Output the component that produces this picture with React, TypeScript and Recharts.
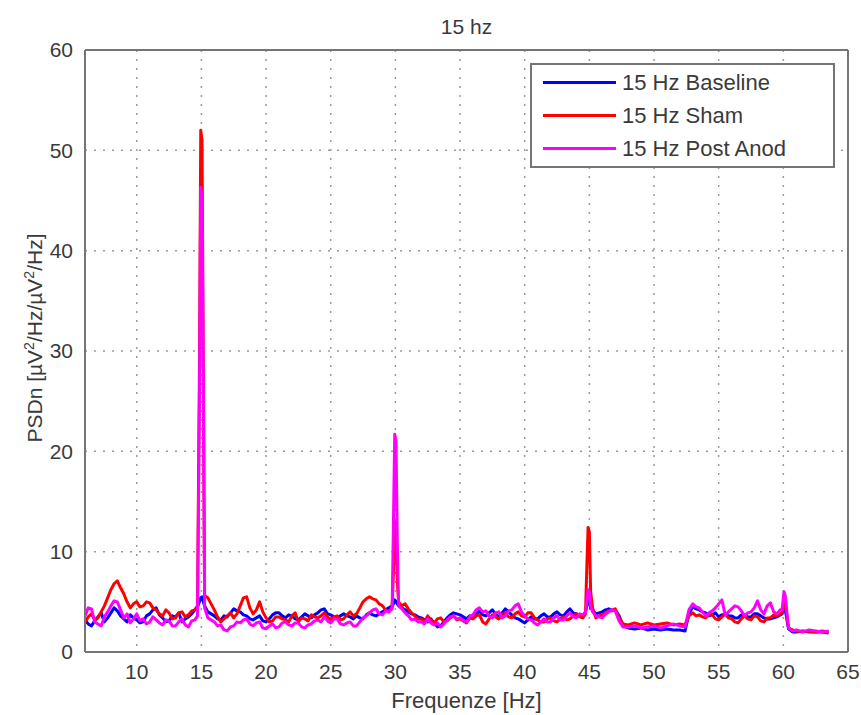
import React from 'react';
import { LineChart, Line, XAxis, YAxis, CartesianGrid, Legend } from 'recharts';

// Frequency bins (Hz)
const FREQS = [
  6, 6.25, 6.5, 6.75,
  7, 7.25, 7.5, 7.75,
  8, 8.25, 8.5, 8.75,
  9, 9.25, 9.5, 9.75,
  10, 10.25, 10.5, 10.75,
  11, 11.25, 11.5, 11.75,
  12, 12.25, 12.5, 12.75,
  13, 13.25, 13.5, 13.75,
  14, 14.25, 14.5, 14.7, 14.85, 14.95, 15.05, 15.15, 15.25, 15.5, 15.75,
  16, 16.25, 16.5, 16.75,
  17, 17.25, 17.5, 17.75,
  18, 18.25, 18.5, 18.75,
  19, 19.25, 19.5, 19.75,
  20, 20.25, 20.5, 20.75,
  21, 21.25, 21.5, 21.75,
  22, 22.25, 22.5, 22.75,
  23, 23.25, 23.5, 23.75,
  24, 24.25, 24.5, 24.75,
  25, 25.25, 25.5, 25.75,
  26, 26.25, 26.5, 26.75,
  27, 27.25, 27.5, 27.75,
  28, 28.25, 28.5, 28.75,
  29, 29.25, 29.5, 29.75, 29.85, 29.95, 30.05, 30.15, 30.25, 30.5, 30.75,
  31, 31.25, 31.5, 31.75,
  32, 32.25, 32.5, 32.75,
  33, 33.25, 33.5, 33.75,
  34, 34.25, 34.5, 34.75,
  35, 35.25, 35.5, 35.75,
  36, 36.25, 36.5, 36.75,
  37, 37.25, 37.5, 37.75,
  38, 38.25, 38.5, 38.75,
  39, 39.25, 39.5, 39.75,
  40, 40.25, 40.5, 40.75,
  41, 41.25, 41.5, 41.75,
  42, 42.25, 42.5, 42.75,
  43, 43.25, 43.5, 43.75,
  44, 44.25, 44.5, 44.7, 44.8, 44.9, 45.0, 45.1, 45.25, 45.5, 45.75,
  46, 46.25, 46.5, 46.75,
  47, 47.3, 47.6,
  48, 48.5, 49, 49.5, 50, 50.5, 51, 51.5, 52, 52.4, 52.7,
  53, 53.25, 53.5, 53.75,
  54, 54.25, 54.5, 54.75,
  55, 55.25, 55.5, 55.75,
  56, 56.25, 56.5, 56.75,
  57, 57.25, 57.5, 57.75,
  58, 58.25, 58.5, 58.75,
  59, 59.25, 59.5, 59.75,
  59.9, 60.05, 60.15, 60.4, 60.7, 61, 61.5, 62, 62.5, 63, 63.5,
];

const BASELINE = [
  3.2, 2.8, 2.6, 3.1,
  3.5, 3.9, 3.0, 3.4,
  3.9, 4.4, 4.1, 3.6,
  3.3, 3.0, 3.7, 3.4,
  3.2, 2.9, 3.0, 3.6,
  3.8, 4.2, 4.4, 3.7,
  3.4, 3.0, 3.1, 3.6,
  3.5, 3.9, 3.0, 3.3,
  3.5, 3.8, 4.2, 4.5, 5.0, 5.4, 5.5, 5.0, 4.6, 4.0, 3.8,
  3.6, 3.3, 3.2, 3.6,
  3.5, 3.9, 4.3, 4.1,
  4.0, 3.7, 3.6, 3.3,
  3.2, 3.4, 3.6, 3.1,
  3.0, 3.3, 3.7, 3.9,
  3.9, 3.6, 3.4, 3.7,
  3.6, 3.3, 3.2, 3.5,
  3.8, 3.6, 3.4, 3.7,
  3.9, 4.2, 4.3, 3.8,
  3.7, 3.5, 3.4, 3.6,
  3.8, 3.6, 3.5, 3.3,
  3.6, 3.4, 3.3, 3.7,
  3.9, 3.7, 3.6, 3.8,
  4.0, 4.2, 4.4, 4.6, 4.8, 5.2, 5.0, 4.8, 4.6, 4.4, 4.2,
  4.0, 3.8, 3.7, 3.5,
  3.4, 3.2, 3.0, 3.3,
  2.9, 2.5, 2.6, 3.0,
  3.4, 3.7, 3.9, 3.8,
  3.7, 3.5, 3.3, 3.6,
  3.5, 3.8, 4.1, 3.7,
  3.6, 3.9, 4.2, 3.8,
  3.5, 3.9, 4.3, 4.0,
  3.7, 3.4, 3.3, 3.1,
  2.9, 3.2, 3.5, 3.3,
  3.3, 3.6, 3.8, 3.5,
  3.5, 3.8, 4.0, 3.7,
  3.6, 4.0, 4.3, 3.9,
  3.8, 3.6, 3.6, 4.0, 4.6, 5.4, 5.0, 4.4, 4.2, 3.8, 3.9,
  4.0, 4.2, 4.3, 4.1,
  4.2, 3.6, 2.6,
  2.4, 2.3, 2.4, 2.2, 2.3, 2.2, 2.3, 2.2, 2.2, 2.1, 3.8,
  4.5, 4.3, 4.2, 4.0,
  3.9, 3.6, 3.7, 3.9,
  3.5, 3.7, 3.8, 3.6,
  3.6, 3.4, 3.4, 3.7,
  3.7, 3.5, 3.5, 3.8,
  3.8, 3.6, 3.4, 3.3,
  3.3, 3.4, 3.5, 3.7,
  3.8, 4.3, 4.2, 2.3, 2.0, 2.0, 2.1, 2.0, 2.0, 2.0, 1.9,
];

const SHAM = [
  3.0, 3.5, 3.8, 3.2,
  3.4, 4.0, 4.6, 5.4,
  6.2, 6.8, 7.1, 6.4,
  5.8, 5.0, 4.4, 4.8,
  5.0, 4.5, 4.6, 5.0,
  4.9, 4.4, 4.2, 3.8,
  3.6, 4.2, 3.9, 3.3,
  3.4, 3.9, 4.0, 3.5,
  3.7, 4.1, 4.2, 4.6, 28.5, 52.0, 51.0, 28.0, 5.6, 5.4, 4.8,
  4.2, 3.5, 3.0, 3.3,
  3.6, 3.9, 3.4, 3.8,
  4.6, 5.4, 5.5, 4.4,
  3.8, 4.2, 5.0, 4.0,
  3.4, 3.0, 3.1, 3.5,
  3.5, 3.3, 3.2, 3.0,
  3.6, 3.9, 3.0, 3.4,
  3.3, 3.1, 3.7, 3.5,
  3.4, 3.6, 3.9, 3.5,
  3.2, 3.5, 3.6, 3.2,
  3.3, 3.7, 4.0, 3.6,
  3.8, 4.4, 5.0, 5.3,
  5.5, 5.3, 5.2, 4.8,
  4.6, 4.2, 4.0, 4.5, 8.0, 13.0, 12.0, 7.0, 5.0, 4.6, 4.8,
  4.3, 3.9, 3.6, 3.3,
  3.3, 3.0, 3.6, 3.2,
  2.9, 3.3, 3.4, 3.0,
  3.1, 3.4, 3.6, 3.2,
  3.3, 3.1, 2.9, 3.4,
  3.3, 3.6, 3.7, 3.0,
  2.8, 3.3, 3.7, 3.5,
  3.3, 3.7, 3.9, 3.5,
  3.4, 3.8, 4.0, 3.6,
  3.5, 3.9, 3.9, 3.4,
  3.2, 3.0, 3.0, 3.3,
  3.4, 3.1, 3.0, 3.3,
  3.5, 3.2, 3.3, 3.6,
  3.8, 3.5, 3.4, 3.8, 8.3, 12.4, 12.0, 6.0, 4.4, 3.4, 3.6,
  3.7, 3.9, 4.1, 4.2,
  4.3, 3.4, 2.8,
  2.7, 2.9, 2.7, 2.9, 2.7, 2.8, 2.9, 2.7, 2.8, 2.7, 3.6,
  3.9, 3.6, 3.7, 3.5,
  3.4, 3.8, 3.7, 3.3,
  3.2, 3.5, 3.8, 3.4,
  3.3, 3.0, 2.9, 3.3,
  3.6, 3.3, 3.2, 3.6,
  3.5, 3.1, 3.0, 3.4,
  3.4, 3.7, 3.6, 3.8,
  3.9, 5.0, 4.8, 2.4, 2.2, 2.1, 2.0, 2.1, 2.0, 2.1, 2.0,
];

const POST_ANOD = [
  3.6, 4.4, 4.3, 3.0,
  2.8, 2.6, 3.5, 4.0,
  4.6, 5.1, 5.0, 4.2,
  3.4, 3.8, 2.9, 3.3,
  3.8, 3.1, 3.3, 2.8,
  3.0, 3.5, 3.2, 2.9,
  2.7, 3.2, 3.1, 2.6,
  2.6, 3.0, 3.3, 2.7,
  2.5, 3.1, 3.2, 3.6, 25.5, 46.3, 45.0, 26.0, 4.4, 3.4, 3.2,
  3.0, 2.6, 2.7, 2.2,
  2.1, 2.5, 2.6, 3.0,
  2.9, 3.2, 3.3, 2.8,
  2.6, 2.9, 3.0, 2.4,
  2.3, 2.6, 2.8, 2.4,
  2.5, 2.9, 3.0, 2.7,
  2.6, 2.9, 2.9, 2.5,
  2.4, 2.7, 2.8, 3.1,
  3.2, 3.0, 3.5, 3.1,
  2.9, 3.3, 3.3, 2.8,
  2.7, 2.9, 3.0, 2.6,
  2.6, 3.0, 3.4, 3.6,
  3.9, 4.2, 4.3, 3.8,
  3.7, 4.1, 4.0, 4.3, 12.8, 21.7, 21.0, 11.0, 4.6, 4.3, 3.9,
  3.6, 3.2, 3.3, 3.0,
  3.0, 2.8, 3.3, 2.9,
  2.7, 2.9, 2.5, 2.8,
  3.2, 3.5, 3.6, 3.3,
  3.4, 3.1, 3.0, 3.5,
  3.7, 4.2, 4.4, 4.0,
  4.1, 3.6, 3.4, 3.9,
  4.0, 3.4, 3.6, 4.1,
  4.2, 4.6, 4.8, 4.0,
  3.6, 3.3, 3.2, 2.9,
  2.7, 3.0, 3.3, 3.0,
  3.0, 3.4, 3.6, 3.2,
  3.2, 3.6, 3.9, 3.5,
  3.4, 3.8, 3.7, 3.9, 5.0, 6.2, 6.0, 4.6, 4.0, 3.6, 3.5,
  3.4, 3.8, 4.0, 4.2,
  4.1, 3.1, 2.5,
  2.5, 2.6, 2.4, 2.5, 2.6, 2.4, 2.6, 2.8, 2.6, 2.5, 4.2,
  4.8, 4.5, 4.4, 4.0,
  3.6, 3.9, 4.1, 4.4,
  4.8, 5.2, 3.7, 4.0,
  4.3, 4.6, 4.5, 4.1,
  3.6, 3.9, 4.0, 4.4,
  5.1, 4.2, 3.8, 4.6,
  4.9, 4.0, 3.8, 4.2,
  4.2, 6.0, 5.6, 2.4, 2.1, 2.2, 2.0, 2.2, 2.1, 2.0, 2.1,
];

const X_TICKS = [10, 15, 20, 25, 30, 35, 40, 45, 50, 55, 60, 65];
const Y_TICKS = [0, 10, 20, 30, 40, 50, 60];
const X_DOMAIN: [number, number] = [6, 65];
const Y_DOMAIN: [number, number] = [0, 60];

const TITLE = '15 hz';
const X_LABEL = 'Frequenze [Hz]';

const SERIES = [
  { key: 'baseline', name: '15 Hz Baseline', color: '#0000ff' },
  { key: 'sham', name: '15 Hz Sham', color: '#ff0000' },
  { key: 'post', name: '15 Hz Post Anod', color: '#ff00ff' },
];

const data = FREQS.map((f, i) => ({
  f,
  baseline: BASELINE[i],
  sham: SHAM[i],
  post: POST_ANOD[i],
}));

const FONT = '"Liberation Sans", Arial, Helvetica, sans-serif';
const TEXT = '#3a3a3a';
const FRAME = '#757575';

const LegendBox = () => (
  <div
    style={{
      width: 305,
      height: 105,
      boxSizing: 'border-box',
      border: `2px solid ${FRAME}`,
      background: '#fff',
      paddingTop: 1,
      fontFamily: FONT,
    }}
  >
    {SERIES.map((s) => (
      <div key={s.key} style={{ height: 33, display: 'flex', alignItems: 'center' }}>
        <div style={{ marginLeft: 11, width: 73, height: 3, background: s.color }} />
        <span style={{ marginLeft: 6, fontSize: 22, color: TEXT, lineHeight: '33px' }}>{s.name}</span>
      </div>
    ))}
  </div>
);

const TitleLabel = (props: any) => {
  const vb = props.viewBox || {};
  return (
    <text x={vb.x + vb.width / 2} y={34} textAnchor="middle" fontSize={21} fill={TEXT} fontFamily={FONT}>
      {TITLE}
    </text>
  );
};

const XLabel = (props: any) => {
  const vb = props.viewBox || {};
  return (
    <text x={vb.x + vb.width / 2} y={vb.y + 56} textAnchor="middle" fontSize={22} fill={TEXT} fontFamily={FONT}>
      {X_LABEL}
    </text>
  );
};

const YLabel = (props: any) => {
  const vb = props.viewBox || {};
  const cx = vb.x + 17;
  const cy = vb.y + vb.height / 2 - 13;
  return (
    <text
      x={cx}
      y={cy}
      transform={`rotate(-90, ${cx}, ${cy})`}
      textAnchor="middle"
      fontSize={21}
      fill={TEXT}
      fontFamily={FONT}
    >
      PSDn [µV
      <tspan dy={-8} fontSize={14}>2</tspan>
      <tspan dy={8}>/Hz/µV</tspan>
      <tspan dy={-8} fontSize={14}>2</tspan>
      <tspan dy={8}>/Hz]</tspan>
    </text>
  );
};

export default function App() {
  const tickStyle = { fill: TEXT, fontSize: 21, fontFamily: FONT };
  return (
    <div style={{ position: 'absolute', left: 0, top: 0, width: 861, height: 715, background: '#fff' }}>
      <LineChart width={861} height={715} data={data} margin={{ top: 50, right: 13, bottom: 33, left: 25 }}>
        <CartesianGrid
          xAxisId="x"
          yAxisId="y"
          stroke="#9a9a9a"
          strokeWidth={1.5}
          strokeDasharray="2 7"
        />
        <XAxis
          xAxisId="x"
          dataKey="f"
          type="number"
          domain={X_DOMAIN}
          ticks={X_TICKS}
          interval={0}
          allowDataOverflow
          height={30}
          tickSize={0}
          tickMargin={12}
          tickLine={false}
          axisLine={{ stroke: FRAME, strokeWidth: 2 }}
          tick={tickStyle}
          label={XLabel}
        />
        <XAxis
          xAxisId="xb"
          dataKey="f"
          type="number"
          domain={X_DOMAIN}
          ticks={X_TICKS}
          interval={0}
          allowDataOverflow
          mirror
          tick={false}
          tickSize={6}
          tickLine={{ stroke: FRAME, strokeWidth: 2 }}
          axisLine={false}
        />
        <XAxis
          xAxisId="xt"
          orientation="top"
          dataKey="f"
          type="number"
          domain={X_DOMAIN}
          ticks={X_TICKS}
          interval={0}
          allowDataOverflow
          mirror
          tick={false}
          tickSize={6}
          tickLine={{ stroke: FRAME, strokeWidth: 2 }}
          axisLine={{ stroke: FRAME, strokeWidth: 2 }}
          label={TitleLabel}
        />
        <YAxis
          yAxisId="y"
          type="number"
          domain={Y_DOMAIN}
          ticks={Y_TICKS}
          interval={0}
          allowDataOverflow
          width={60}
          tickSize={0}
          tickMargin={12}
          tickLine={false}
          axisLine={{ stroke: FRAME, strokeWidth: 2 }}
          tick={tickStyle}
          label={YLabel}
        />
        <YAxis
          yAxisId="yl"
          type="number"
          domain={Y_DOMAIN}
          ticks={Y_TICKS}
          interval={0}
          allowDataOverflow
          mirror
          tick={false}
          tickSize={6}
          tickLine={{ stroke: FRAME, strokeWidth: 2 }}
          axisLine={false}
        />
        <YAxis
          yAxisId="yr"
          orientation="right"
          type="number"
          domain={Y_DOMAIN}
          ticks={Y_TICKS}
          interval={0}
          allowDataOverflow
          mirror
          tick={false}
          tickSize={6}
          tickLine={{ stroke: FRAME, strokeWidth: 2 }}
          axisLine={{ stroke: FRAME, strokeWidth: 2 }}
        />
        {SERIES.map((s) => (
          <Line
            key={s.key}
            xAxisId="x"
            yAxisId="y"
            type="linear"
            dataKey={s.key}
            name={s.name}
            stroke={s.color}
            strokeWidth={3}
            strokeLinejoin="round"
            dot={false}
            activeDot={false}
            isAnimationActive={false}
          />
        ))}
        <Legend
          layout="vertical"
          align="center"
          verticalAlign="middle"
          wrapperStyle={{ left: 530, top: 63, width: 305, height: 105 }}
          content={() => <LegendBox />}
        />
      </LineChart>
    </div>
  );
}
